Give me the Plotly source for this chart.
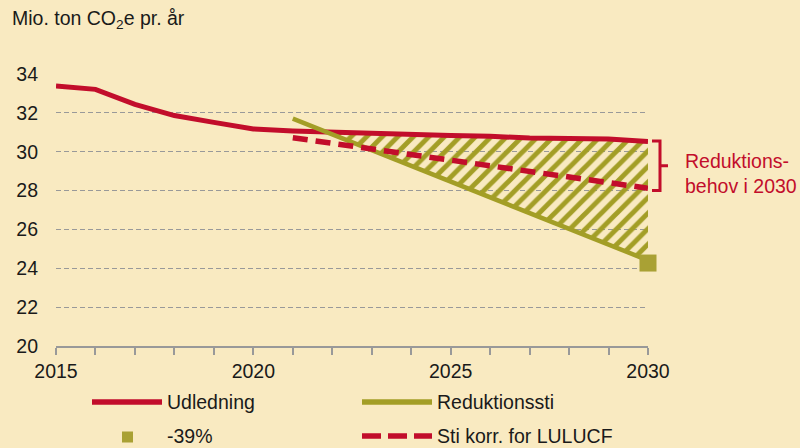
import numpy as np
import plotly.graph_objects as go

# Emissions data, Mio. ton CO2e per year
years = list(range(2015, 2031))
udledning = [33.38, 33.21, 32.44, 31.86, 31.51, 31.17, 31.07, 31.00,
             30.95, 30.88, 30.83, 30.80, 30.70, 30.68, 30.65, 30.52]

sti_years = list(range(2021, 2031))
reduktionssti = [31.70, 30.89, 30.08, 29.27, 28.46, 27.65, 26.84, 26.03, 25.22, 24.41]
lulucf = [30.72, 30.43, 30.14, 29.85, 29.56, 29.27, 28.98, 28.69, 28.40, 28.12]

maal_year = [2030]
maal_value = [24.27]

x_ticks = [2015, 2020, 2025, 2030]
y_ticks = [20, 22, 24, 26, 28, 30, 32, 34]
y_range = [20, 34]

RED = "#C20D2B"
OLIVE = "#A39E26"
OLIVE_MARK = "#A9A134"
BG = "#F9EAC1"
GRID = "#999999"
TXT = "#1A1A1A"
FONT = "Liberation Sans, Arial, sans-serif"
FS = 19.5

W, H = 800, 448
ML, MR, MT, MB = 56, 152, 74, 102
PW, PH = W - ML - MR, H - MT - MB


def px(x):
    return (x - ML) / PW


def py(y):
    return (H - MB - y) / PH


def vy(v):
    return (v - y_range[0]) / (y_range[1] - y_range[0])


# Gap region between emissions and the reduction path (where path is below emissions)
u_sub = np.array([udledning[years.index(y)] for y in sti_years])
r_sub = np.array(reduktionssti)
diff = u_sub - r_sub
k = int(np.argmax(diff > 0))
t = -diff[k - 1] / (diff[k] - diff[k - 1])
x0 = sti_years[k - 1] + t
y0 = u_sub[k - 1] + t * (u_sub[k] - u_sub[k - 1])
poly_x = [x0] + sti_years[k:] + sti_years[k:][::-1] + [x0]
poly_y = [y0] + list(u_sub[k:]) + list(r_sub[k:][::-1]) + [y0]

fig = go.Figure()

fig.add_trace(go.Scatter(
    x=poly_x, y=poly_y, mode="lines", fill="toself",
    line=dict(width=0, color="rgba(0,0,0,0)"),
    fillcolor="rgba(0,0,0,0)",
    fillpattern=dict(shape="/", fgcolor=OLIVE, bgcolor="rgba(0,0,0,0)",
                     size=11, solidity=0.45, fgopacity=1),
    hoverinfo="skip", showlegend=False))

fig.add_trace(go.Scatter(x=years, y=udledning, mode="lines",
                         line=dict(color=RED, width=5), name="Udledning",
                         showlegend=False))
fig.add_trace(go.Scatter(x=sti_years, y=reduktionssti, mode="lines",
                         line=dict(color=OLIVE, width=4.5), name="Reduktionssti",
                         showlegend=False))
fig.add_trace(go.Scatter(x=sti_years, y=lulucf, mode="lines",
                         line=dict(color=RED, width=5.5, dash="15px,8px"),
                         name="Sti korr. for LULUCF", showlegend=False))
fig.add_trace(go.Scatter(x=maal_year, y=maal_value, mode="markers",
                         marker=dict(symbol="square", size=17, color=OLIVE_MARK),
                         cliponaxis=False, name="-39%", showlegend=False))

shapes = []
annotations = []

# Bracket marking the reduction need in 2030
bx_in, bx_mid, bx_out = px(652), px(660), px(668)
b_top, b_bot = vy(udledning[-1] + 0.03), vy(lulucf[-1] - 0.12)
b_c = (b_top + b_bot) / 2
shapes.append(dict(
    type="path", xref="paper", yref="paper",
    path=(f"M {bx_in},{b_top} L {bx_mid},{b_top} L {bx_mid},{b_bot} L {bx_in},{b_bot} "
          f"M {bx_mid},{b_c} L {bx_out},{b_c}"),
    line=dict(color=RED, width=3)))
annotations.append(dict(
    xref="paper", yref="paper", x=px(683), y=py(173), xanchor="left", yanchor="middle",
    text="Reduktions-<br>behov i 2030", showarrow=False, align="left",
    font=dict(family=FONT, size=FS, color=RED)))

# Axis title
annotations.append(dict(
    xref="paper", yref="paper", x=px(10), y=py(19), xanchor="left", yanchor="middle",
    text="Mio. ton CO<sub>2</sub>e pr. år", showarrow=False,
    font=dict(family=FONT, size=FS, color=TXT)))


# Legend
def legend_line(x1, x2, y, color, dash=None):
    shapes.append(dict(type="line", xref="paper", yref="paper",
                       x0=px(x1), x1=px(x2), y0=py(y), y1=py(y),
                       line=dict(color=color, width=5.5, dash=dash)))


def legend_text(x, y, text):
    annotations.append(dict(xref="paper", yref="paper", x=px(x), y=py(y),
                            xanchor="left", yanchor="middle", text=text,
                            showarrow=False,
                            font=dict(family=FONT, size=FS, color=TXT)))


legend_line(92, 162, 402, RED)
legend_text(165, 402, "Udledning")
legend_line(362, 432, 402, OLIVE)
legend_text(435, 402, "Reduktionssti")
shapes.append(dict(type="rect", xref="paper", yref="paper",
                   x0=px(122), x1=px(133), y0=py(431.5), y1=py(442.5),
                   fillcolor=OLIVE_MARK, line=dict(width=0)))
legend_text(165, 436, "-39%")
legend_line(362, 432, 436, RED, dash="19px,7px")
legend_text(435, 436, "Sti korr. for LULUCF")

fig.update_layout(
    width=W, height=H, autosize=False,
    margin=dict(l=ML, r=MR, t=MT, b=MB, pad=0),
    paper_bgcolor=BG, plot_bgcolor=BG,
    font=dict(family=FONT, size=FS, color=TXT),
    shapes=shapes, annotations=annotations, showlegend=False,
    xaxis=dict(range=[2015, 2030], tickvals=x_ticks, ticktext=[str(v) for v in x_ticks],
               showgrid=False, zeroline=False, showline=True, linecolor=GRID, linewidth=1.5,
               ticks="outside", ticklen=7, tickcolor=GRID, tickwidth=1.5,
               minor=dict(dtick=1, tick0=2015, ticks="outside", ticklen=7,
                          tickcolor=GRID, tickwidth=1.5, showgrid=False),
               tickfont=dict(family=FONT, size=FS, color=TXT)),
    yaxis=dict(range=y_range, tickvals=y_ticks, showgrid=True, gridcolor=GRID,
               gridwidth=1.2, griddash="5px,3px", zeroline=False, showline=False,
               ticks="", ticklabelstandoff=17,
               tickfont=dict(family=FONT, size=FS, color=TXT)),
)

fig.write_html("out.html")
